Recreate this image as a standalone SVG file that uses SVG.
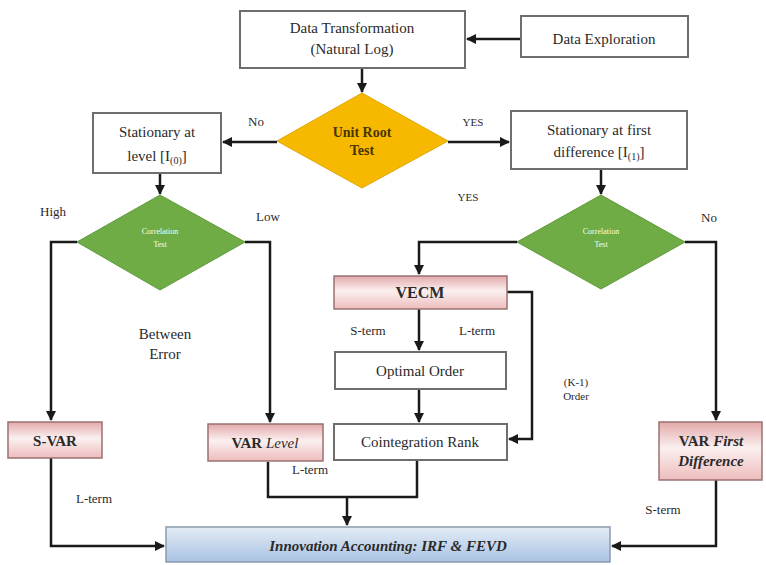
<svg xmlns="http://www.w3.org/2000/svg" width="766" height="565" viewBox="0 0 766 565">
<defs>
<linearGradient id="pink" x1="0" y1="0" x2="0" y2="1">
<stop offset="0" stop-color="#e3a9aa"/>
<stop offset="0.45" stop-color="#fbf0f0"/>
<stop offset="1" stop-color="#eebcbd"/>
</linearGradient>
<linearGradient id="blue" x1="0" y1="0" x2="0" y2="1">
<stop offset="0" stop-color="#e4ecf6"/>
<stop offset="1" stop-color="#a9c3e3"/>
</linearGradient>
<marker id="ah" viewBox="0 0 10 10" refX="9" refY="5" markerWidth="4" markerHeight="4" orient="auto" markerUnits="strokeWidth">
<path d="M0,0 L10,5 L0,10 z" fill="#1a1a1a"/>
</marker>
</defs>
<style>
.box{fill:#fff;stroke:#6e6e6e;stroke-width:2}
.pbox{fill:url(#pink);stroke:#9b7272;stroke-width:1.5}
.t{font-family:"Liberation Serif",serif;font-size:15px;fill:#2a2a2a;text-anchor:middle}
.b{font-weight:bold}
.lbl{font-family:"Liberation Serif",serif;font-size:13px;fill:#2a2a2a;text-anchor:middle}
.ct{font-family:"Liberation Serif",serif;font-size:8px;fill:#f4fff0;text-anchor:middle}
.c{fill:none;stroke:#1a1a1a;stroke-width:2.5}
</style>
<rect width="766" height="565" fill="#fff"/>

<g id="connectors">
<path class="c" d="M521,39 H467" marker-end="url(#ah)"/>
<path class="c" d="M362,68 V92" marker-end="url(#ah)"/>
<path class="c" d="M277,142 H223" marker-end="url(#ah)"/>
<path class="c" d="M448,142 H509" marker-end="url(#ah)"/>
<path class="c" d="M160,173 V194" marker-end="url(#ah)"/>
<path class="c" d="M601,169 V194" marker-end="url(#ah)"/>
<path class="c" d="M77,242 H51 V420" marker-end="url(#ah)"/>
<path class="c" d="M245,242 H270 V422" marker-end="url(#ah)"/>
<path class="c" d="M517,242 H419 V274" marker-end="url(#ah)"/>
<path class="c" d="M685,242 H716 V420" marker-end="url(#ah)"/>
<path class="c" d="M419,309 V350" marker-end="url(#ah)"/>
<path class="c" d="M419,389 V422" marker-end="url(#ah)"/>
<path class="c" d="M507,292 H532 V439 H509" marker-end="url(#ah)"/>
<path class="c" d="M268,462 V497 H417 V460"/>
<path class="c" d="M347,497 V525" marker-end="url(#ah)"/>
<path class="c" d="M51,458 V546 H164" marker-end="url(#ah)"/>
<path class="c" d="M716,480 V546 H612" marker-end="url(#ah)"/>
</g>

<g id="data-transformation">
<rect class="box" x="240" y="11" width="225" height="57"/>
<text class="t" x="352" y="33">Data Transformation</text>
<text class="t" x="352" y="54">(Natural Log)</text>
</g>
<g id="data-exploration">
<rect class="box" x="521" y="16" width="167" height="41"/>
<text class="t" x="604" y="44">Data Exploration</text>
</g>
<g id="unit-root-test">
<polygon points="362,93 448,141 362,188 277,141" fill="#f7b900" stroke="#e0a800" stroke-width="1"/>
<text class="t b" x="362" y="137" style="font-size:14px;fill:#4a3400">Unit Root</text>
<text class="t b" x="362" y="155" style="font-size:14px;fill:#4a3400">Test</text>
</g>
<g id="stationary-level">
<rect class="box" x="93" y="113" width="128" height="60"/>
<text class="t" x="157" y="137">Stationary at</text>
<text class="t" x="157" y="161">level [I<tspan dy="3" font-size="10">(0)</tspan><tspan dy="-3">]</tspan></text>
</g>
<g id="stationary-first">
<rect class="box" x="511" y="111" width="176" height="58"/>
<text class="t" x="599" y="135">Stationary at first</text>
<text class="t" x="599" y="157">difference [I<tspan dy="3" font-size="10">(1)</tspan><tspan dy="-3">]</tspan></text>
</g>
<g id="correlation-left">
<polygon points="160,195 245,242 160,290 77,242" fill="#6fac46" stroke="#5f9a3a" stroke-width="1"/>
<text class="ct" x="160" y="234">Correlation</text>
<text class="ct" x="160" y="247">Test</text>
</g>
<g id="correlation-right">
<polygon points="601,195 685,242 601,289 517,242" fill="#6fac46" stroke="#5f9a3a" stroke-width="1"/>
<text class="ct" x="601" y="234">Correlation</text>
<text class="ct" x="601" y="247">Test</text>
</g>
<g id="vecm">
<rect class="pbox" x="334" y="276" width="173" height="33"/>
<text class="t b" x="420" y="298" style="font-size:16px">VECM</text>
</g>
<g id="optimal-order">
<rect class="box" x="335" y="352" width="171" height="37"/>
<text class="t" x="420" y="376">Optimal Order</text>
</g>
<g id="cointegration-rank">
<rect class="box" x="334" y="424" width="173" height="36"/>
<text class="t" x="420" y="447">Cointegration Rank</text>
</g>
<g id="s-var">
<rect class="pbox" x="8" y="422" width="94" height="36"/>
<text class="t b" x="55" y="446">S-VAR</text>
</g>
<g id="var-level">
<rect class="pbox" x="208" y="424" width="115" height="37"/>
<text class="t" x="265" y="448"><tspan font-weight="bold">VAR </tspan><tspan font-style="italic">Level</tspan></text>
</g>
<g id="var-first-difference">
<rect class="pbox" x="659" y="422" width="103" height="58"/>
<text class="t b" x="711" y="446">VAR <tspan font-style="italic">First</tspan></text>
<text class="t b" x="711" y="466" font-style="italic">Difference</text>
</g>
<g id="innovation-accounting">
<rect x="166" y="527" width="444" height="35" fill="url(#blue)" stroke="#8a9aae" stroke-width="1.5"/>
<text class="t b" x="388" y="551" font-style="italic">Innovation Accounting: IRF &amp; FEVD</text>
</g>

<g id="labels">
<text class="lbl" x="256" y="126">No</text>
<text class="lbl" x="473" y="126" style="font-size:11px">YES</text>
<text class="lbl" x="468" y="201" style="font-size:11px">YES</text>
<text class="lbl" x="53" y="216">High</text>
<text class="lbl" x="268" y="221">Low</text>
<text class="lbl" x="709" y="222">No</text>
<text class="t" x="165" y="339">Between</text>
<text class="t" x="165" y="359">Error</text>
<text class="lbl" x="368" y="335">S-term</text>
<text class="lbl" x="477" y="335">L-term</text>
<text class="lbl" x="576" y="386" style="font-size:11px">(K-1)</text>
<text class="lbl" x="576" y="400" style="font-size:11px">Order</text>
<text class="lbl" x="310" y="474">L-term</text>
<text class="lbl" x="94" y="503">L-term</text>
<text class="lbl" x="663" y="514">S-term</text>
</g>
</svg>
